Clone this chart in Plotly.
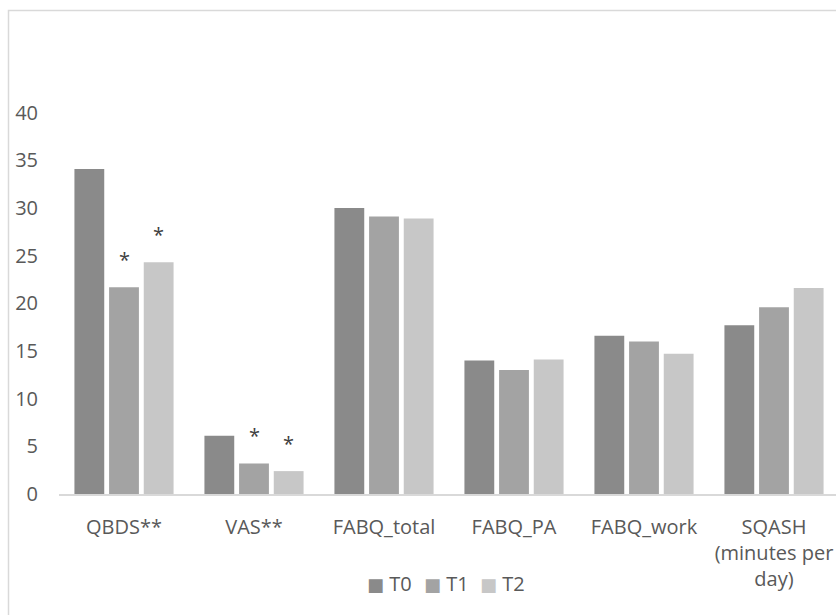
import plotly.graph_objects as go

categories = ["QBDS**", "VAS**", "FABQ_total", "FABQ_PA", "FABQ_work",
              "SQASH<br>(minutes per<br>day)"]
t0_values = [34.1, 6.1, 30.0, 14.0, 16.6, 17.7]
t1_values = [21.7, 3.2, 29.1, 13.0, 16.0, 19.6]
t2_values = [24.3, 2.4, 28.9, 14.1, 14.7, 21.6]
t1_marks = ["*", "*", "", "", "", ""]
t2_marks = ["*", "*", "", "", "", ""]
series_names = ["T0", "T1", "T2"]
y_ticks = [0, 5, 10, 15, 20, 25, 30, 35, 40]

FONT = "Open Sans"
TXT = "#595959"
COLORS = ["#8a8a8a", "#a3a3a3", "#c7c7c7"]

W, H = 836, 615
ML, MR, MT, MB = 59, 0, 65, 121
plot_w = W - ML - MR
plot_h = H - MT - MB
cat_px = 130.0
BARGAP, GROUPGAP = 0.2, 0.14
slot_px = cat_px * (1 - BARGAP) / 3

fig = go.Figure()
for name, vals, col in zip(series_names, [t0_values, t1_values, t2_values], COLORS):
    fig.add_trace(go.Bar(
        name=name, x=categories, y=vals,
        marker=dict(color=col, line=dict(width=0)),
        hoverinfo="x+y+name", showlegend=False,
    ))

annotations = []
for slot, (vals, marks) in enumerate([(t1_values, t1_marks), (t2_values, t2_marks)]):
    for cat, v, m in zip(categories, vals, marks):
        if m:
            annotations.append(dict(
                x=cat, y=v, xref="x", yref="y", text=m, showarrow=False,
                xanchor="center", yanchor="bottom",
                xshift=slot * slot_px, yshift=12,
                font=dict(family=FONT, size=20, color="#404040")))

# legend (built from the series names and colours)
LEG_LEFT, LEG_STEP, LEG_Y = 365, 56.5, 583
for i, (name, col) in enumerate(zip(series_names, COLORS)):
    px = LEG_LEFT + i * LEG_STEP
    annotations.append(dict(
        x=(px - ML) / plot_w, y=-(LEG_Y - (MT + plot_h)) / plot_h,
        xref="paper", yref="paper", showarrow=False,
        xanchor="left", yanchor="middle",
        text=f'<span style="color:{col};font-family:DejaVu Sans;font-size:18px">■</span> {name}',
        font=dict(family=FONT, size=20, color=TXT)))

fig.update_layout(
    width=W, height=H,
    margin=dict(l=ML, r=MR, t=MT, b=MB, autoexpand=False),
    paper_bgcolor="white", plot_bgcolor="white",
    barmode="group", bargap=BARGAP, bargroupgap=GROUPGAP,
    font=dict(family=FONT, size=20, color=TXT),
    showlegend=False,
    xaxis=dict(range=[-0.5, -0.5 + plot_w / cat_px], showgrid=False,
               showline=True, linecolor="#d9d9d9", linewidth=2,
               ticks="", tickfont=dict(family=FONT, size=20, color=TXT),
               ticklabelstandoff=14, automargin=False, fixedrange=True,
               zeroline=False),
    yaxis=dict(range=[0, 45], showgrid=False, showline=False, zeroline=False,
               tickvals=y_ticks, ticks="", tickfont=dict(family=FONT, size=20, color=TXT),
               ticklabelstandoff=20, automargin=False, fixedrange=True),
    annotations=annotations,
    shapes=[dict(type="rect", xref="paper", yref="paper",
                 x0=(8.5 - ML) / plot_w, x1=1.1,
                 y0=-0.5, y1=1 + (MT - 10.5) / plot_h,
                 line=dict(color="#d9d9d9", width=1.5), fillcolor="rgba(0,0,0,0)",
                 layer="below")],
)

fig.write_html("out.html", config={"displayModeBar": False},
               post_script="document.body.style.margin='0';document.body.style.overflow='hidden';")
